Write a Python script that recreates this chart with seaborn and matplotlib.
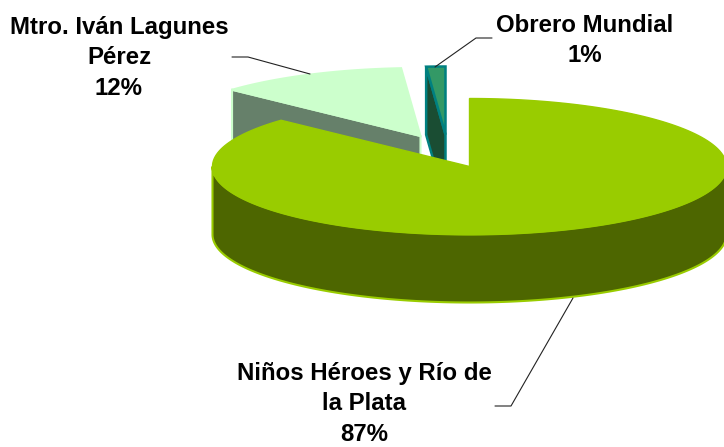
import numpy as np
import pandas as pd
import seaborn as sns
from matplotlib import pyplot as plt
from matplotlib.patches import Polygon

labels = ['Niños Héroes y Río de\nla Plata', 'Mtro. Iván Lagunes\nPérez', 'Obrero Mundial']
values = [86.9, 11.9, 1.2]
top_colors = ['#99CC00', '#CCFFCC', '#339966']
side_colors = ['#4D6600', '#66806A', '#1A4D33']
edge_colors = ['#99CC00', '#CCFFCC', '#008080']

df = pd.DataFrame({'label': labels, 'value': values})
df['pct'] = df['value'] / df['value'].sum()
df['end'] = df['pct'].cumsum() * 360
df['start'] = df['end'] - df['pct'] * 360

sns.set_theme(style='white')
plt.rcParams['font.family'] = ['Liberation Sans', 'DejaVu Sans']

fig, ax = plt.subplots(figsize=(7.24, 4.47), dpi=100)
ax.set_position([0, 0, 1, 1])
ax.set_xlim(0, 724)
ax.set_ylim(447, 0)
ax.axis('off')

# ellipse of the pie, in pixels
cx, cy = 469.5, 166.5
rx, ry = 257, 68
depth = 68
# apex of each slice (the small ones are pulled out)
apex = [(cx, cy), (420.5, 136), (445.5, 134.5)]


def arc(x0, y0, a0, a1):
    t = np.radians(np.linspace(a0, a1, 200))
    return np.column_stack([x0 + rx * np.sin(t), y0 - ry * np.cos(t)])


def draw_cut(i, angle, lw):
    # flat wall of a pulled out slice
    x0, y0 = apex[i]
    p = arc(x0, y0, angle, angle)[0]
    pts = [(x0, y0), p, (p[0], p[1] + depth), (x0, y0 + depth)]
    ax.add_patch(Polygon(pts, closed=True, fc=side_colors[i], ec=edge_colors[i], lw=lw))


def draw_top(i, lw):
    x0, y0 = apex[i]
    pts = np.vstack([[(x0, y0)], arc(x0, y0, df['start'][i], df['end'][i])])
    ax.add_patch(Polygon(pts, closed=True, fc=top_colors[i], ec=edge_colors[i], lw=lw, joinstyle='miter'))


# back slices first, main slice covers them
draw_cut(1, df['start'][1], 1.5)
draw_top(1, 1.5)
draw_cut(2, df['start'][2], 1.8)
draw_top(2, 1.8)

front = arc(cx, cy, 90, 270)
wall = np.vstack([front, front[::-1] + [0, depth]])
ax.add_patch(Polygon(wall, closed=True, fc=side_colors[0], ec=edge_colors[0], lw=1.5))
draw_top(0, 1)

# leader lines
ax.plot([495, 511, 573], [406, 406, 298], color='#222222', lw=0.8)
ax.plot([232, 248, 310], [57, 57, 74], color='#222222', lw=0.8)
ax.plot([492, 476, 435], [38, 38, 67], color='#222222', lw=0.8)

# data labels
label_pos = [(364.5, 404), (119, 58), (585, 40.5)]
for i, (x, y) in enumerate(label_pos):
    ax.text(x, y, f"{df['label'][i]}\n{df['pct'][i]:.0%}", ha='center', va='center',
            fontsize=17.3, fontweight='bold', color='black', linespacing=1.42)

plt.savefig('out.png', dpi=100)
